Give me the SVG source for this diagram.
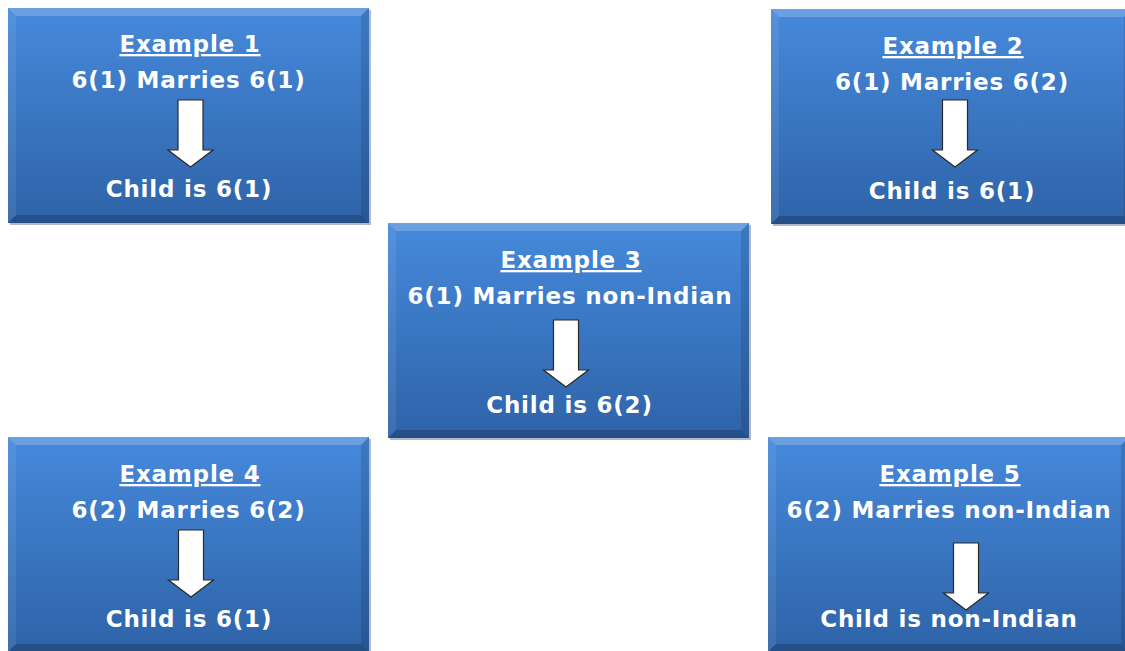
<svg xmlns="http://www.w3.org/2000/svg" xmlns:xlink="http://www.w3.org/1999/xlink" width="1125" height="651" viewBox="0 0 1125 651">
<style>
.t{font-family:"DejaVu Sans",Verdana,sans-serif;font-weight:bold;font-size:23px;fill:#ffffff;text-anchor:middle;letter-spacing:0.8px}
.u{text-decoration:underline}
.arr{fill:#ffffff;stroke:#2a2a2a;stroke-width:1.2;stroke-linejoin:miter}
</style>
<defs>
<linearGradient id="g" x1="0" y1="0" x2="0" y2="1">
<stop offset="0" stop-color="#4689db"/>
<stop offset="1" stop-color="#2e63a8"/>
</linearGradient>
<g id="box">
<rect x="2" y="2" width="361" height="215" fill="#6d7f99" opacity="0.55"/>
<rect x="0" y="0" width="361" height="215" fill="url(#g)"/>
<polygon points="0,0 361,0 353,8 8,8" fill="#ffffff" opacity="0.2"/>
<polygon points="0,0 8,8 8,207 0,215" fill="#ffffff" opacity="0.08"/>
<polygon points="361,0 361,215 353,207 353,8" fill="#000000" opacity="0.12"/>
<polygon points="0,215 361,215 353,207 8,207" fill="#000000" opacity="0.2"/>
</g>
<path id="arrow" class="arr" d="M-12.5,0 H12.5 V50 H22.5 L0,67 L-22.5,50 H-12.5 Z"/>
</defs>
<g id="connectors"></g>
<g id="example1">
<use xlink:href="#box" x="8" y="8"/>
<text class="t u" x="190" y="52">Example 1</text>
<text class="t" x="188.5" y="88">6(1) Marries 6(1)</text>
<use xlink:href="#arrow" transform="translate(190.5,100)"/>
<text class="t" x="189" y="197">Child is 6(1)</text>
</g>
<g id="example2">
<use xlink:href="#box" x="771" y="9"/>
<text class="t u" x="953" y="54">Example 2</text>
<text class="t" x="952" y="90">6(1) Marries 6(2)</text>
<use xlink:href="#arrow" transform="translate(955,100)"/>
<text class="t" x="952" y="199">Child is 6(1)</text>
</g>
<g id="example3">
<use xlink:href="#box" x="388" y="223"/>
<text class="t u" x="571" y="268">Example 3</text>
<text class="t" x="570" y="304">6(1) Marries non-Indian</text>
<use xlink:href="#arrow" transform="translate(566,320)"/>
<text class="t" x="569.5" y="413">Child is 6(2)</text>
</g>
<g id="example4">
<use xlink:href="#box" x="8" y="437"/>
<text class="t u" x="190" y="482">Example 4</text>
<text class="t" x="188.5" y="518">6(2) Marries 6(2)</text>
<use xlink:href="#arrow" transform="translate(191,530)"/>
<text class="t" x="189" y="627">Child is 6(1)</text>
</g>
<g id="example5">
<use xlink:href="#box" x="768" y="437"/>
<text class="t u" x="950" y="482">Example 5</text>
<text class="t" x="949" y="518">6(2) Marries non-Indian</text>
<use xlink:href="#arrow" transform="translate(966,543)"/>
<text class="t" x="949" y="627">Child is non-Indian</text>
</g>
</svg>
